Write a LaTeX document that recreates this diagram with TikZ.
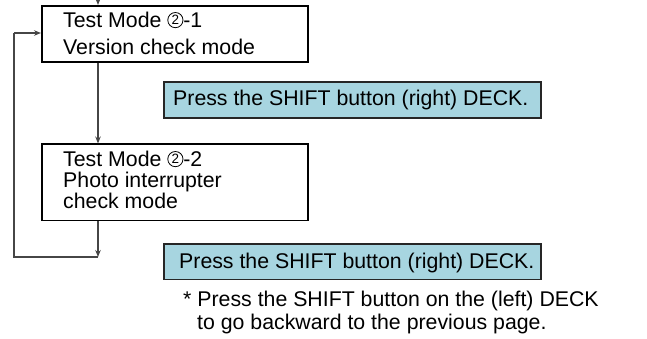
\documentclass[tikz,border=0pt]{standalone}
\usepackage{fontspec}
\setmainfont{Liberation Sans}
\usetikzlibrary{arrows.meta}
\definecolor{keyblue}{RGB}{167,213,224}
\definecolor{linegray}{RGB}{70,70,70}
\newcommand{\cnum}[1]{\tikz[baseline=0pt]{\draw[line width=0.8pt] (0pt,7.6pt) circle[radius=7.6pt]; \node[inner sep=0pt, anchor=base, font=\fontsize{13.5}{13.5}\selectfont] at (0pt,2.8pt) {#1};}}
\begin{document}
\begin{tikzpicture}[x=1pt,y=-1pt,
  mainbox/.style={draw=black, line width=1.8pt, minimum width=266pt, minimum height=56pt, anchor=north west, inner sep=0pt},
  keybox/.style={draw=black!85, fill=keyblue, line width=1.8pt, minimum width=377pt, minimum height=36pt, anchor=north west, inner sep=0pt},
  txt/.style={anchor=base west, inner sep=0pt, font=\fontsize{21.3}{21.3}\selectfont},
  arr/.style={draw=linegray, line width=1.1pt, -{Stealth[length=7pt,width=5.5pt]}},
  ln/.style={draw=linegray, line width=1.1pt}]
\useasboundingbox (0,0) rectangle (647,339);
% main boxes
\node[mainbox] (b1) at (41,5) {};
\node[mainbox, minimum height=76pt] (b2) at (41,143.5) {};
\node[txt] (t11) at (63,27.7) {Test Mode \cnum{2}-1};
\node[txt] (t12) at (63,55) {Version check mode};
\node[txt] (t21) at (63,166.7) {Test Mode \cnum{2}-2};
\node[txt] (t22) at (63,187.5) {Photo interrupter};
\node[txt] (t23) at (63,208.3) {check mode};
% key boxes
\node[keybox] (k1) at (163,81) {};
\node[txt] (k1t) at (173,105.6) {Press the SHIFT button (right) DECK.};
\node[keybox, minimum height=35.5pt] (k2) at (163,243) {};
\node[txt] (k2t) at (179,268.3) {Press the SHIFT button (right) DECK.};
% footnote
\node[txt] (f1) at (183,306) {* Press the SHIFT button on the (left) DECK};
\node[txt] (f2) at (197,329.5) {to go backward to the previous page.};
% connectors
\coordinate (top) at (98,0);
\coordinate (corner) at (98,257);
\coordinate (lc) at (14,257);
\coordinate (lt) at (14,33);
\draw[arr] (top) -- (top |- b1.north);
\draw[arr] (b1.south -| top) -- (b2.north -| top);
\draw[arr] (b2.south -| top) -- (corner);
\draw[ln] (corner) -- (lc) -- (lt);
\draw[arr] (lt) -- (lt -| b1.west);
\end{tikzpicture}
\end{document}
